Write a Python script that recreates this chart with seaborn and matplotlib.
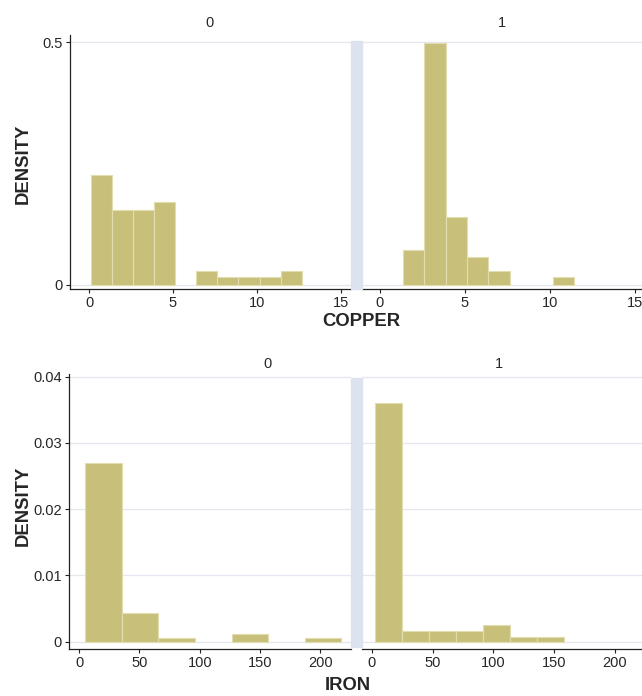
import numpy as np
import pandas as pd
import matplotlib
matplotlib.use("Agg")
import matplotlib.pyplot as plt
import seaborn as sns
from matplotlib.patches import Rectangle

sns.set_style("white")
plt.rcParams['font.family'] = ['Liberation Sans', 'DejaVu Sans']

## data (density per bin)
groups = ["0", "1"]

copper_edges_0 = [0.1, 1.36, 2.61, 3.87, 5.13, 6.38, 7.64, 8.89, 10.15, 11.40, 12.66]
copper_dens_0 = [0.226, 0.154, 0.154, 0.171, 0.0, 0.029, 0.017, 0.017, 0.017, 0.029]
copper_edges_1 = [1.36, 2.61, 3.87, 5.13, 6.38, 7.64, 8.89, 10.15, 11.40]
copper_dens_1 = [0.072, 0.497, 0.1405, 0.057, 0.029, 0.0, 0.0, 0.017]

iron_edges_0 = [5.2, 35.5, 65.8, 96.1, 126.4, 156.7, 187.0, 217.3]
iron_dens_0 = [0.0269, 0.0043, 0.0005, 0.0, 0.00116, 0.0, 0.0005]
iron_edges_1 = [2.5, 24.7, 46.9, 69.1, 91.3, 113.5, 135.7, 157.9]
iron_dens_1 = [0.0361, 0.0016, 0.0016, 0.0016, 0.0025, 0.00075, 0.00075]

copper_xticks = [0, 5, 10, 15]
copper_yticks = [0, 0.5]
copper_ylabels = ["0", "0.5"]
iron_xticks = [0, 50, 100, 150, 200]
iron_yticks = [0, 0.01, 0.02, 0.03, 0.04]
iron_ylabels = ["0", "0.01", "0.02", "0.03", "0.04"]

bar_color = "#c8c07a"
edge_color = "#e2ddb0"
grid_color = "#e3e7ef"
sep_color = "#dde3ee"
axis_color = "#222222"
tick_fs = 10.5
title_fs = 13.3

W, H = 642, 696
fig = plt.figure(figsize=(W / 100, H / 100), dpi=100)


def px_axes(x0, x1, y0, y1):
    return fig.add_axes([x0 / W, 1 - y1 / H, (x1 - x0) / W, (y1 - y0) / H])


def draw_hist(ax, edges, dens, xlim, ylim, xticks, yticks, ylabels, show_y):
    e = np.array(edges)
    df = pd.DataFrame({"x": (e[:-1] + e[1:]) / 2, "w": dens})
    sns.histplot(data=df, x="x", weights="w", bins=list(edges), stat="count",
                 color=bar_color, alpha=1, edgecolor=edge_color, linewidth=0.8, ax=ax)
    for p in ax.patches:
        if p.get_height() == 0:
            p.set_visible(False)
    ax.set_xlim(*xlim)
    ax.set_ylim(*ylim)
    ax.set_yticks(yticks)
    ax.set_xticks(xticks)
    ax.set_xticklabels([str(t) for t in xticks], fontsize=tick_fs)
    for y in yticks:
        ax.axhline(y, color=grid_color, lw=0.9, zorder=0)
    ax.set_xlabel(None)
    ax.set_ylabel(None)
    for s in ["top", "right"]:
        ax.spines[s].set_visible(False)
    ax.spines["bottom"].set_color(axis_color)
    ax.spines["bottom"].set_linewidth(0.9)
    if show_y:
        ax.set_yticklabels(ylabels, fontsize=tick_fs)
        ax.spines["left"].set_color(axis_color)
        ax.spines["left"].set_linewidth(0.9)
    else:
        ax.spines["left"].set_visible(False)
        ax.tick_params(axis="y", left=False, labelleft=False)
    ax.tick_params(axis="both", direction="out", length=3, width=0.8, color=axis_color, pad=2,
                   bottom=True, left=show_y)
    ax.set_facecolor("white")


## copper
ax = px_axes(70, 351, 35, 289)
draw_hist(ax, copper_edges_0, copper_dens_0, (-19 / 16.8, 262 / 16.8), (-4 / 486, 0.5 + 7 / 486),
          copper_xticks, copper_yticks, copper_ylabels, True)
ax = px_axes(362, 642, 35, 289)
draw_hist(ax, copper_edges_1, copper_dens_1, (-18 / 17.0, 262 / 17.0), (-4 / 486, 0.5 + 7 / 486),
          copper_xticks, copper_yticks, copper_ylabels, False)

## iron
ax = px_axes(69, 351, 374, 649)
draw_hist(ax, iron_edges_0, iron_dens_0, (-10 / 1.207, 272 / 1.207), (-7.3 / 6625, 0.04 + 2.7 / 6625),
          iron_xticks, iron_yticks, iron_ylabels, True)
ax = px_axes(362, 642, 374, 649)
draw_hist(ax, iron_edges_1, iron_dens_1, (-9.7 / 1.2165, 270.3 / 1.2165), (-7.3 / 6625, 0.04 + 2.7 / 6625),
          iron_xticks, iron_yticks, iron_ylabels, False)

# separator strips between panels
fig.patches.append(Rectangle((351 / W, 1 - 289 / H), 11 / W, 248 / H, transform=fig.transFigure,
                             color=sep_color, zorder=5))
fig.patches.append(Rectangle((351 / W, 1 - 647 / H), 11 / W, 269 / H, transform=fig.transFigure,
                             color=sep_color, zorder=5))

# panel titles
fig.text(210 / W, 1 - 23 / H, groups[0], ha="center", va="center", fontsize=tick_fs)
fig.text(502 / W, 1 - 23 / H, groups[1], ha="center", va="center", fontsize=tick_fs)
fig.text(267 / W, 1 - 364 / H, groups[0], ha="center", va="center", fontsize=tick_fs)
fig.text(499 / W, 1 - 364 / H, groups[1], ha="center", va="center", fontsize=tick_fs)

# axis titles
fig.text(23 / W, 1 - 164 / H, "DENSITY", rotation=90, ha="center", va="center", fontsize=title_fs, fontweight="bold")
fig.text(23 / W, 1 - 506 / H, "DENSITY", rotation=90, ha="center", va="center", fontsize=title_fs, fontweight="bold")
fig.text(361 / W, 1 - 322 / H, "COPPER", ha="center", va="center", fontsize=title_fs, fontweight="bold")
fig.text(348 / W, 1 - 685 / H, "IRON", ha="center", va="center", fontsize=title_fs, fontweight="bold")

fig.savefig("out.png", dpi=100, facecolor="white")
